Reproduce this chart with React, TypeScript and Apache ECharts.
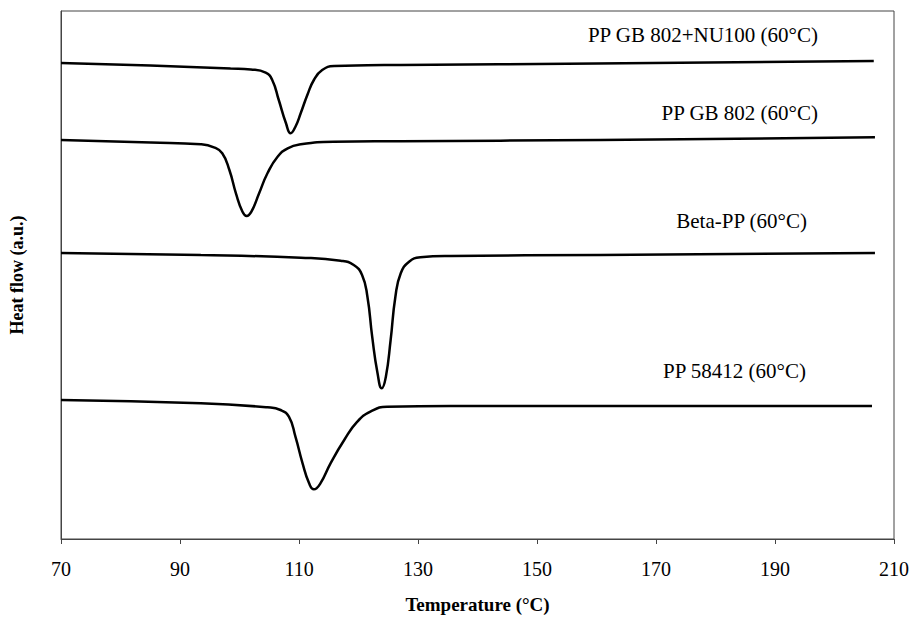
import React, { useEffect, useRef } from "react";
import * as echarts from "echarts";

// Temperatures (°C) and heat-flow values (arbitrary units)
const tNU100 = [70, 85, 98.5, 101.9, 104.4, 105.5, 106.6, 107.8, 108.6, 109.4, 110.3, 111.4, 112.5, 113.9, 115.9, 121.5, 127.1, 160, 206.6];
const hNU100 = [476, 473.5, 470.5, 469.5, 466.3, 459, 439, 416, 405.7, 412.3, 426, 444, 459, 469, 473, 473.7, 474, 475.5, 478];

const tGB802 = [70, 85.1, 93.5, 95.7, 97.1, 98.3, 99.4, 100.5, 101.2, 102.0, 103.3, 104.7, 106.4, 108.1, 110.3, 115.8, 127.1, 160.6, 206.8];
const hGB802 = [399, 396.5, 394.7, 391.7, 385.7, 369, 345.7, 327.3, 323, 327.3, 345.7, 365.7, 382.3, 390.7, 394.7, 397.3, 397.8, 399, 401.7];

const tBeta = [70, 93.5, 110.3, 117, 119.2, 120.6, 121.5, 122.3, 123.2, 123.9, 124.6, 125.4, 126.2, 127.1, 128.5, 130.4, 135.5, 160.6, 206.8];
const hBeta = [286, 284, 281.3, 278.3, 274, 264, 242.3, 202.3, 165.7, 150.7, 162.3, 199, 242.3, 265.7, 277.3, 281.7, 283, 284, 286];

const t58412 = [70, 93.5, 104.7, 106.9, 108.3, 109.4, 110.6, 111.7, 112.5, 113.6, 115.3, 117.6, 119.8, 122.0, 124.8, 135.5, 160.6, 206.3];
const h58412 = [139, 135.7, 131.7, 129, 122.3, 102.3, 75.7, 55.7, 49.7, 55.7, 75.7, 99, 117.3, 127.3, 132.3, 133, 133, 133];

const seriesNames = ["PP GB 802+NU100 (60°C)", "PP GB 802 (60°C)", "Beta-PP (60°C)", "PP 58412 (60°C)"];
const xTicks = [70, 90, 110, 130, 150, 170, 190, 210];

const FONT = "'Liberation Serif', 'Times New Roman', serif";

function zip(t: number[], h: number[]) {
  return t.map((v, i) => [v, h[i]]);
}

export default function App() {
  const ref = useRef<HTMLDivElement>(null);
  useEffect(() => {
    document.body.style.margin = "0";
    const chart = echarts.init(ref.current!, undefined, { renderer: "svg" });
    const datasets = [zip(tNU100, hNU100), zip(tGB802, hGB802), zip(tBeta, hBeta), zip(t58412, h58412)];
    const labelPos = [
      { x: 818, y: 35 },
      { x: 818, y: 113 },
      { x: 807, y: 221 },
      { x: 806, y: 371 },
    ];
    chart.setOption({
      animation: false,
      backgroundColor: "#fff",
      grid: { left: 60, top: 11, right: 19, bottom: 80, show: true, borderColor: "#444", borderWidth: 1 },
      xAxis: {
        type: "value",
        min: xTicks[0],
        max: xTicks[xTicks.length - 1],
        interval: 20,
        name: "Temperature (°C)",
        nameLocation: "middle",
        nameGap: 56,
        nameTextStyle: { fontFamily: FONT, fontSize: 19, fontWeight: "bold", color: "#000" },
        axisLine: { show: true, lineStyle: { color: "#444", width: 1 } },
        axisTick: { show: true, inside: false, length: 5, lineStyle: { color: "#444" } },
        axisLabel: { fontFamily: FONT, fontSize: 20, color: "#000", margin: 20 },
        splitLine: { show: false },
      },
      yAxis: {
        type: "value",
        min: 0,
        max: 528,
        name: "Heat flow (a.u.)",
        nameLocation: "middle",
        nameGap: 35,
        nameTextStyle: { fontFamily: FONT, fontSize: 18, fontWeight: "bold", color: "#000" },
        axisLine: { show: true, lineStyle: { color: "#444", width: 1 } },
        axisTick: { show: false },
        axisLabel: { show: false },
        splitLine: { show: false },
      },
      series: datasets.map((d, i) => ({
        type: "line",
        name: seriesNames[i],
        data: d,
        showSymbol: false,
        smooth: 0.5,
        lineStyle: { color: "#000", width: 2.5 },
      })),
      graphic: seriesNames.map((n, i) => ({
        type: "text",
        x: labelPos[i].x,
        y: labelPos[i].y,
        style: {
          text: n,
          fontFamily: FONT,
          fontSize: 21,
          fill: "#000",
          textAlign: "right",
          textVerticalAlign: "middle",
        },
      })),
    });
    return () => chart.dispose();
  }, []);
  return <div ref={ref} style={{ position: "absolute", left: 0, top: 0, width: 913, height: 619 }} />;
}
